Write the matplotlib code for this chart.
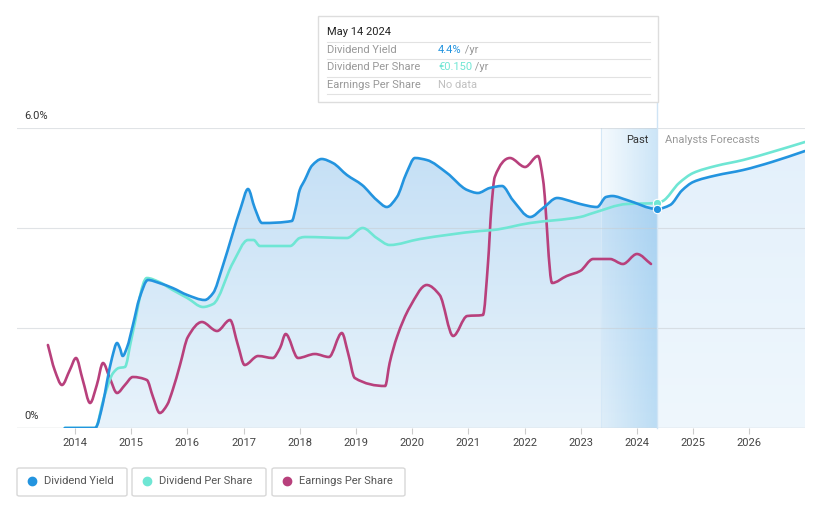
import matplotlib
matplotlib.use("Agg")
import matplotlib.pyplot as plt
import numpy as np
from matplotlib.colors import to_rgb
from matplotlib.patches import Rectangle, FancyBboxPatch, PathPatch
from matplotlib.path import Path
from matplotlib.lines import Line2D

plt.rcParams["font.family"] = ["Roboto", "DejaVu Sans"]

# dividend yield (%), history then analyst forecast
yield_x = [2013.82, 2014.36, 2014.50, 2014.57, 2014.66, 2014.75, 2014.80, 2014.85, 2014.93,
           2015.03, 2015.15, 2015.30, 2015.50, 2015.74, 2016.00, 2016.31, 2016.46, 2016.62,
           2016.81, 2016.95, 2017.08, 2017.20, 2017.33, 2017.86, 2017.93, 2018.00, 2018.09,
           2018.22, 2018.39, 2018.59, 2018.84, 2019.11, 2019.37, 2019.55, 2019.73, 2019.90,
           2020.05, 2020.26, 2020.62, 2020.98, 2021.17, 2021.38, 2021.60, 2021.79, 2022.10,
           2022.33, 2022.58, 2022.81, 2022.99, 2023.29, 2023.45, 2023.56, 2023.82, 2024.36]
yield_y = [0.00, 0.00, 0.50, 0.92, 1.40, 1.70, 1.60, 1.44, 1.62,
           2.05, 2.60, 2.96, 2.90, 2.80, 2.66, 2.56, 2.70, 3.20,
           3.90, 4.40, 4.78, 4.40, 4.10, 4.14, 4.40, 4.76, 4.96,
           5.25, 5.38, 5.30, 5.06, 4.86, 4.56, 4.42, 4.62, 5.10,
           5.40, 5.36, 5.10, 4.76, 4.70, 4.80, 4.84, 4.56, 4.22,
           4.40, 4.60, 4.54, 4.48, 4.42, 4.62, 4.64, 4.56, 4.38]
yield_fc_x = [2024.36, 2024.59, 2024.80, 2025.00, 2025.40, 2025.89, 2026.40, 2026.99]
yield_fc_y = [4.38, 4.46, 4.75, 4.92, 5.05, 5.16, 5.32, 5.54]

# dividend per share (drawn on the same visual scale)
dps_x = [2013.82, 2014.36, 2014.52, 2014.68, 2014.78, 2014.89, 2015.00, 2015.28, 2015.50,
         2015.74, 2016.00, 2016.28, 2016.46, 2016.81, 2017.08, 2017.18, 2017.29, 2017.83,
         2018.00, 2018.09, 2018.84, 2019.12, 2019.37, 2019.60, 2020.14, 2021.21, 2021.44,
         2022.10, 2022.99, 2023.22, 2023.82, 2024.36]
dps_y = [0.00, 0.00, 0.62, 1.10, 1.20, 1.22, 1.75, 3.00, 2.92,
         2.76, 2.60, 2.42, 2.48, 3.30, 3.76, 3.76, 3.64, 3.64,
         3.80, 3.82, 3.80, 4.00, 3.80, 3.66, 3.78, 3.94, 3.96,
         4.10, 4.22, 4.30, 4.48, 4.50]
dps_fc_x = [2024.36, 2024.46, 2024.75, 2025.00, 2025.40, 2025.89, 2026.40, 2026.99]
dps_fc_y = [4.50, 4.54, 4.90, 5.10, 5.24, 5.36, 5.52, 5.72]

# earnings per share (drawn on the same visual scale)
eps_x = [2013.52, 2013.64, 2013.77, 2013.91, 2014.02, 2014.14, 2014.27, 2014.39, 2014.50,
         2014.62, 2014.75, 2014.89, 2015.03, 2015.28, 2015.39, 2015.51, 2015.64, 2015.74,
         2015.87, 2016.01, 2016.26, 2016.53, 2016.76, 2016.90, 2017.02, 2017.26, 2017.52,
         2017.65, 2017.75, 2017.97, 2018.27, 2018.52, 2018.75, 2018.86, 2018.98, 2019.52,
         2019.60, 2019.73, 2019.96, 2020.26, 2020.49, 2020.73, 2020.98, 2021.26, 2021.35,
         2021.41, 2021.47, 2021.74, 2022.01, 2022.24, 2022.33, 2022.49, 2022.75, 2022.99,
         2023.22, 2023.52, 2023.75, 2024.00, 2024.25]
eps_y = [1.66, 1.16, 0.86, 1.16, 1.40, 0.96, 0.50, 0.86, 1.30,
         1.00, 0.70, 0.86, 1.02, 0.96, 0.62, 0.30, 0.46, 0.76,
         1.26, 1.82, 2.12, 1.94, 2.16, 1.66, 1.26, 1.44, 1.40,
         1.60, 1.88, 1.40, 1.48, 1.42, 1.90, 1.50, 1.00, 0.84,
         1.30, 1.82, 2.42, 2.86, 2.66, 1.84, 2.24, 2.26, 3.30,
         4.40, 5.02, 5.40, 5.22, 5.44, 4.96, 2.90, 3.04, 3.14,
         3.38, 3.38, 3.28, 3.48, 3.28]

years = list(range(2014, 2027))
now_x = 2024.36
past_start = 2023.36

BLUE = "#2394df"
TEAL = "#6fe6d4"
MAGENTA = "#b8407c"

W, H = 821, 508
fig = plt.figure(figsize=(W / 100, H / 100), dpi=100)
ax = fig.add_axes([17 / W, 1 - 428 / H, (805 - 17) / W, 300 / H])
ax.set_xlim(2012.97, 2026.99)
ax.set_ylim(0, 6)
ax.set_facecolor("white")


def fx(px):
    return px / W


def fy(py):
    return 1 - py / H


def smooth_path(xs, ys, close=False):
    # monotone cubic (Fritsch-Carlson) segments rendered as Bezier curves
    x = np.asarray(xs, float)
    y = np.asarray(ys, float)
    h = np.diff(x)
    d = np.diff(y) / h
    m = np.zeros_like(y)
    m[0], m[-1] = d[0], d[-1]
    for k in range(1, len(x) - 1):
        if d[k - 1] * d[k] > 0:
            w1 = 2 * h[k] + h[k - 1]
            w2 = h[k] + 2 * h[k - 1]
            m[k] = (w1 + w2) / (w1 / d[k - 1] + w2 / d[k])
    verts = [(x[0], y[0])]
    codes = [Path.MOVETO]
    for k in range(len(x) - 1):
        verts += [(x[k] + h[k] / 3, y[k] + m[k] * h[k] / 3),
                  (x[k + 1] - h[k] / 3, y[k + 1] - m[k + 1] * h[k] / 3),
                  (x[k + 1], y[k + 1])]
        codes += [Path.CURVE4] * 3
    if close:
        verts += [(x[-1], 0), (x[0], 0), (x[0], y[0])]
        codes += [Path.LINETO, Path.LINETO, Path.CLOSEPOLY]
    return Path(verts, codes)


def gradient_fill(xs, ys, top, bottom):
    t, b = np.array(to_rgb(top)), np.array(to_rgb(bottom))
    f = np.linspace(0, 1, 256)[:, None]
    img = (t * (1 - f) + b * f)[:, None, :]
    im = ax.imshow(img, extent=[min(xs), max(xs), 0, 6], aspect="auto",
                   origin="upper", zorder=1, interpolation="bilinear")
    im.set_clip_path(smooth_path(xs, ys, close=True), transform=ax.transData)


def smooth_line(xs, ys, color, z):
    ax.add_patch(PathPatch(smooth_path(xs, ys), fill=False, edgecolor=color, lw=1.9,
                           capstyle="round", joinstyle="round", zorder=z))


gradient_fill(yield_x, yield_y, "#c2def5", "#e8f3fb")
gradient_fill(yield_fc_x, yield_fc_y, "#e3f0fb", "#eff7fd")

# past year band, darker towards "now"
band = np.zeros((2, 256, 4))
band[..., :3] = to_rgb("#5eaee8")
band[..., 3] = np.linspace(0.06, 0.32, 256)[None, :]
ax.imshow(band, extent=[past_start, now_x, 0, 6], aspect="auto", zorder=1.5,
          interpolation="bilinear")
ax.axvline(past_start, color="#d5e8f7", lw=0.8, zorder=1.6)

for g in [2, 4, 6]:
    ax.axhline(g, color="#c8cdd2", lw=0.8, alpha=0.55, zorder=2)
ax.axhline(0, color="#cfd3d6", lw=1, zorder=2)

ax.plot([now_x, now_x], [0, (428 - 102) / 50], color="#cfe4f5", lw=1,
        clip_on=False, zorder=2)

smooth_line(eps_x, eps_y, MAGENTA, 3)
smooth_line(dps_x + dps_fc_x[1:], dps_y + dps_fc_y[1:], TEAL, 4)
smooth_line(yield_x + yield_fc_x[1:], yield_y + yield_fc_y[1:], BLUE, 5)
ax.plot([now_x], [dps_y[-1]], "o", ms=6, color=TEAL, mec="white", mew=0.8, zorder=6)
ax.plot([now_x], [yield_y[-1]], "o", ms=6, color=BLUE, mec="white", mew=0.8, zorder=6)

for s in ax.spines.values():
    s.set_visible(False)
ax.set_yticks([])
ax.set_xticks(years)
ax.set_xticklabels([str(y) for y in years], fontsize=8, color="#444444")
ax.tick_params(axis="x", length=4, color="#cccccc", pad=3)

fig.text(fx(24), fy(116), "6.0%", fontsize=8, color="#333333", va="center")
fig.text(fx(24), fy(416), "0%", fontsize=8, color="#333333", va="center")
fig.text(fx(648), fy(140), "Past", fontsize=8, color="#333333", va="center", ha="right")
fig.text(fx(665), fy(140), "Analysts Forecasts", fontsize=8, color="#999999", va="center")

# tooltip
fig.add_artist(Rectangle((fx(318), fy(102)), (658 - 318) / W, 86 / H,
                         facecolor="white", edgecolor="#dddddd", lw=1, zorder=10))
fig.text(fx(327), fy(32), "May 14 2024", fontsize=8, color="#222222", va="center",
         zorder=11)
for py in [42, 59, 77, 94]:
    fig.add_artist(Line2D([fx(327), fx(650)], [fy(py), fy(py)], color="#e2e2e2",
                          lw=0.8, zorder=11))
rows = [("Dividend Yield", "4.4%", BLUE, " /yr"),
        ("Dividend Per Share", "€0.150", TEAL, " /yr"),
        ("Earnings Per Share", "No data", "#c0c0c0", "")]
for (label, value, color, unit), py in zip(rows, [50, 67, 85]):
    fig.text(fx(327), fy(py), label, fontsize=8, color="#999999", va="center", zorder=11)
    t = fig.text(fx(438), fy(py), value, fontsize=8, color=color, va="center", zorder=11)
    if unit:
        fig.canvas.draw()
        bb = t.get_window_extent()
        fig.text(bb.x1 / W, fy(py), unit, fontsize=8, color="#999999", va="center",
                 zorder=11)

# legend buttons
legend = [("Dividend Yield", BLUE, 17, 127), ("Dividend Per Share", TEAL, 132, 266),
          ("Earnings Per Share", MAGENTA, 272, 405)]
for label, color, x0, x1 in legend:
    fig.add_artist(FancyBboxPatch((fx(x0), fy(496)), (x1 - x0) / W, 28 / H,
                                  boxstyle="round,pad=0,rounding_size=0.003",
                                  facecolor="white", edgecolor="#d8d8d8", lw=1))
    fig.add_artist(Line2D([fx(x0 + 15)], [fy(481)], marker="o", ms=6, color=color,
                          lw=0))
    fig.text(fx(x0 + 27), fy(481), label, fontsize=8, color="#555555", va="center")

fig.savefig("out.png", dpi=100)
